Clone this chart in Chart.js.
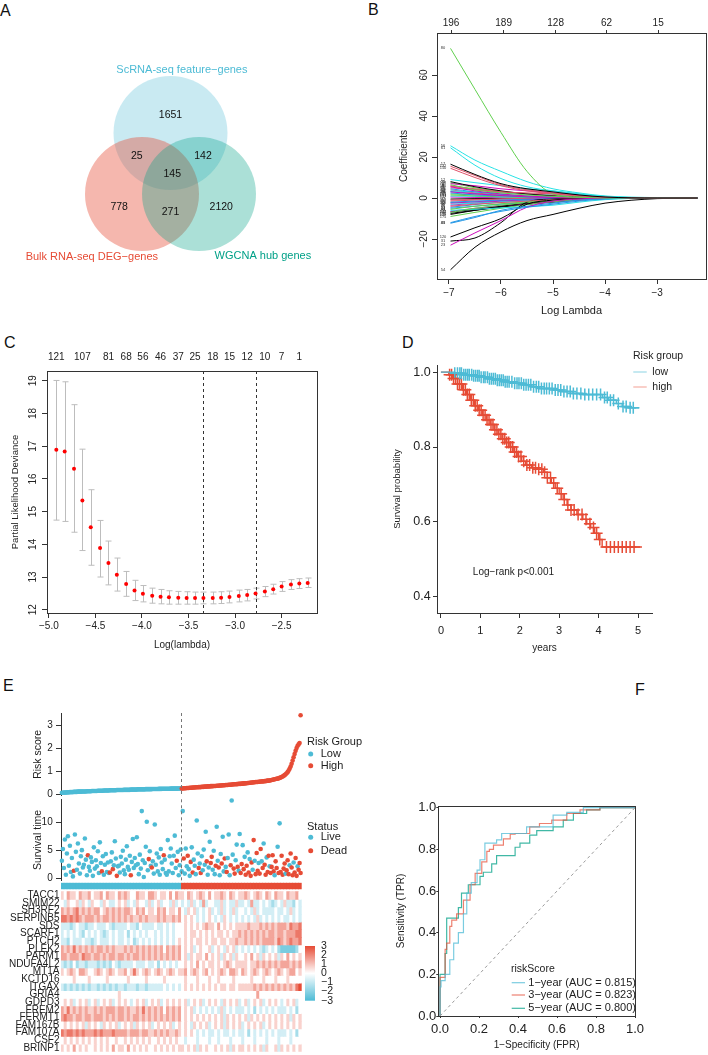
<!DOCTYPE html>
<html>
<head>
<meta charset="utf-8">
<title>Figure</title>
<script src="https://cdn.jsdelivr.net/npm/chart.js@4.4.1/dist/chart.umd.min.js"></script>
<style>
  html, body { margin: 0; padding: 0; background: #fff; }
  body { position: relative; width: 708px; height: 1055px; overflow: hidden; font-family: "Liberation Sans", Arial, sans-serif; }
  canvas { position: absolute; }
  .tag { position: absolute; font-size: 16px; line-height: 16px; color: #111; }
</style>
</head>
<body>
<div class="tag" style="left:0px;top:3px">A</div>
<div class="tag" style="left:368px;top:2px">B</div>
<div class="tag" style="left:4px;top:335px">C</div>
<div class="tag" style="left:402px;top:335px">D</div>
<div class="tag" style="left:3px;top:678px">E</div>
<div class="tag" style="left:635px;top:682px">F</div>

<canvas id="cA" width="354" height="300" style="left:0;top:0"></canvas>
<canvas id="cB" width="354" height="330" style="left:354px;top:0"></canvas>
<canvas id="cC" width="354" height="330" style="left:0;top:330px"></canvas>
<canvas id="cD" width="354" height="330" style="left:354px;top:330px"></canvas>
<canvas id="cE1" width="400" height="125" style="left:0;top:680px"></canvas>
<canvas id="cE2" width="400" height="100" style="left:0;top:790px"></canvas>
<canvas id="cE3" width="400" height="180" style="left:0;top:875px"></canvas>
<canvas id="cF" width="318" height="375" style="left:390px;top:680px"></canvas>

<script>
// ---------- data ----------

// A: Venn
const vennSets = ["ScRNA-seq feature\u2212genes", "Bulk RNA-seq DEG\u2212genes", "WGCNA hub genes"];
const vennCounts = [1651, 25, 142, 145, 778, 271, 2120];

// B: lasso coefficient paths
const lassoLogLambda = [-6.97, -6.5, -6.0, -5.5, -5.0, -4.5, -4.0, -3.0, -2.22];
const lassoTopAt = [-6.96, -5.95, -4.95, -3.97, -2.98];
const lassoTopDf = [196, 189, 128, 62, 15];
const lassoPaths = [
  [16.5, 11.5, 7.0, 4.5, 3.0, 1.5, 0.5, 0, 0],
  [15.5, 11.0, 6.5, 4.0, 2.5, 1.2, 0.4, 0, 0],
  [73, 53, 32, 13, 2.0, 0.5, 0, 0, 0],
  [-12, -9.0, -6.5, -4.5, -3.0, -1.5, -0.5, 0, 0],
  [25.5, 18.5, 13, 8.0, 4.5, 2.5, 1.0, 0.2, 0],
  [-23, -17, -11, -4.5, -1.5, -0.5, 0, 0, 0],
  [-35, -24, -16.5, -11, -8.0, -5.0, -2.5, -0.3, 0],
  [14.5, 10, 6.0, 3.5, 2.0, 1.0, 0.3, 0, 0],
  [6.5, 4.0, 2.5, 1.5, 0.8, 0.3, 0, 0, 0],
  [-12.3, -9.5, -6.0, -4.0, -2.5, -1.0, -0.3, 0, 0],
  [24.5, 16, 9.5, 5.5, 3.5, 2.0, 0.8, 0.1, 0],
  [5.5, 3.5, 2.0, 1.0, 0.4, 0.1, 0, 0, 0],
  [-19, -14.5, -10, -3.0, -1.0, -0.3, 0, 0, 0],
  [-4.0, -3.0, -2.2, -1.5, -0.8, -0.3, 0, 0, 0],
  [-5.5, -4.0, -2.8, -1.8, -1.0, -0.4, 0, 0, 0],
  [4.5, 3.0, 1.8, 1.0, 0.5, 0.2, 0, 0, 0],
  [9.0, 7.5, 6.0, 4.5, 3.5, 2.0, 0.8, 0, 0],
  [3.0, 2.0, 1.2, 0.6, 0.2, 0, 0, 0, 0],
  [-21, -19.5, -12, -2.0, -0.5, 0, 0, 0, 0],
  [5.0, 4.0, 3.0, 2.5, 2.0, 1.2, 0.5, 0, 0],
  [-7.0, -5.0, -3.5, -2.2, -1.2, -0.5, -0.1, 0, 0],
  [-2.0, -1.5, -1.0, -0.6, -0.3, -0.1, 0, 0, 0],
  [-6.0, -5.5, -4.8, -4.2, -3.5, -2.0, -0.8, 0, 0],
  [-2.5, -1.8, -1.2, -0.7, -0.3, 0, 0, 0, 0],
  [8.0, 5.5, 3.5, 2.0, 1.0, 0.4, 0.1, 0, 0],
  [-1.0, -0.7, -0.4, -0.2, -0.1, 0, 0, 0, 0],
  [-9.0, -7.0, -5.0, -3.2, -1.8, -0.8, -0.2, 0, 0],
  [2.5, 1.5, 1.0, 0.5, 0.2, 0, 0, 0, 0],
  [-3.0, -2.5, -2.0, -1.5, -1.0, -0.5, -0.2, 0, 0],
  [7.0, 6.0, 4.5, 3.5, 2.5, 1.5, 0.5, 0, 0],
  [-8.0, -6.0, -4.0, -2.5, -1.3, -0.5, -0.1, 0, 0],
  [6.0, 4.5, 3.0, 2.0, 1.2, 0.5, 0.1, 0, 0],
  [1.5, 1.0, 0.6, 0.3, 0.1, 0, 0, 0, 0],
  [-4.5, -3.2, -2.0, -1.2, -0.5, -0.1, 0, 0, 0],
  [3.5, 3.0, 2.5, 2.0, 1.5, 1.0, 0.4, 0, 0],
  [-6.5, -5.0, -3.8, -2.8, -1.8, -0.9, -0.3, 0, 0],
  [-7.5, -6.0, -4.5, -3.0, -1.8, -0.8, -0.2, 0, 0],
  [4.0, 2.5, 1.5, 0.8, 0.3, 0, 0, 0, 0],
  [2.0, 1.5, 1.2, 0.8, 0.4, 0.1, 0, 0, 0],
  [-5.0, -4.0, -3.0, -2.2, -1.5, -0.8, -0.2, 0, 0],
  [1.0, 0.8, 0.5, 0.3, 0.1, 0, 0, 0, 0],
  [-3.5, -2.5, -1.5, -0.8, -0.3, 0, 0, 0, 0],
  [-6.8, -5.5, -4.2, -3.0, -2.0, -1.0, -0.3, 0, 0],
  [-1.5, -1.0, -0.6, -0.3, -0.1, 0, 0, 0, 0],
  [7.5, 5.0, 3.2, 2.0, 1.1, 0.5, 0.1, 0, 0],
  [3.2, 2.2, 1.4, 0.8, 0.4, 0.1, 0, 0, 0],
  [-2.2, -2.0, -1.6, -1.2, -0.7, -0.3, 0, 0, 0],
  [0.5, 0.3, 0.2, 0.1, 0, 0, 0, 0, 0],
  [-0.5, -0.3, -0.2, -0.1, 0, 0, 0, 0, 0],
  [5.8, 4.2, 3.0, 2.0, 1.2, 0.6, 0.2, 0, 0]
];
const lassoVarIds = [17, 132, 80, 41, 56, 23, 54, 150, 9, 88, 61, 3, 120, 71, 44, 105, 12, 190, 31, 66,
  142, 7, 97, 158, 26, 113, 175, 38, 84, 2, 129, 49, 163, 95, 14, 77, 186, 58, 101, 33,
  171, 6, 144, 69, 118, 20, 92, 137, 47, 181];

// C: cross-validation curve
const cvLogLambda = [-4.92, -4.83, -4.73, -4.64, -4.55, -4.45, -4.36, -4.27, -4.17, -4.08,
  -3.99, -3.89, -3.80, -3.71, -3.61, -3.52, -3.43, -3.34, -3.24, -3.15,
  -3.06, -2.96, -2.87, -2.78, -2.68, -2.59, -2.50, -2.40, -2.31, -2.22];
const cvMean = [16.89, 16.84, 16.31, 15.34, 14.52, 13.89, 13.43, 13.07, 12.79, 12.59,
  12.49, 12.43, 12.40, 12.38, 12.37, 12.36, 12.36, 12.36, 12.36, 12.37,
  12.39, 12.42, 12.45, 12.50, 12.56, 12.63, 12.71, 12.77, 12.80, 12.82];
const cvUpper = [19.01, 18.97, 18.27, 16.91, 15.67, 14.73, 14.10, 13.58, 13.17, 12.90,
  12.74, 12.66, 12.62, 12.58, 12.56, 12.55, 12.54, 12.54, 12.54, 12.55,
  12.57, 12.60, 12.62, 12.66, 12.71, 12.78, 12.86, 12.92, 12.95, 12.97];
const cvLower = [14.74, 14.70, 14.37, 13.81, 13.36, 13.00, 12.76, 12.57, 12.41, 12.28,
  12.24, 12.20, 12.18, 12.17, 12.17, 12.17, 12.17, 12.18, 12.18, 12.19,
  12.21, 12.24, 12.27, 12.33, 12.40, 12.48, 12.56, 12.62, 12.65, 12.68];
const cvLambdaMin = -3.34;
const cvLambda1se = -2.78;
const cvTopAt = [-4.92, -4.64, -4.36, -4.17, -3.99, -3.80, -3.61, -3.43, -3.24, -3.06, -2.87, -2.68, -2.50, -2.31];
const cvTopDf = [121, 107, 81, 68, 56, 46, 37, 25, 18, 15, 12, 10, 7, 1];

// D: Kaplan-Meier
const kmLowTime = [0, 0.35, 0.55, 0.8, 1.0, 1.2, 1.4, 1.6, 1.85, 2.05, 2.3, 2.5, 2.85, 3.05, 3.35, 3.6, 4.1, 4.25, 4.45, 4.6, 4.75, 5.03];
const kmLowSurv = [1.0, 0.997, 0.993, 0.99, 0.986, 0.982, 0.978, 0.974, 0.97, 0.966, 0.961, 0.956, 0.952, 0.948, 0.943, 0.94, 0.932, 0.925, 0.916, 0.908, 0.905, 0.905];
const kmHighTime = [0, 0.2, 0.3, 0.42, 0.55, 0.65, 0.75, 0.85, 0.95, 1.05, 1.15, 1.25, 1.35, 1.45, 1.55, 1.65, 1.75, 1.85, 1.95,
  2.05, 2.15, 2.3, 2.45, 2.6, 2.7, 2.8, 2.9, 3.0, 3.1, 3.2, 3.3, 3.45, 3.6, 3.7, 3.8, 3.9, 4.0, 4.09, 5.1];
const kmHighSurv = [1.0, 0.993, 0.983, 0.968, 0.953, 0.94, 0.925, 0.91, 0.898, 0.885, 0.873, 0.86, 0.846, 0.834, 0.822, 0.812, 0.8, 0.787, 0.775,
  0.762, 0.752, 0.745, 0.741, 0.733, 0.718, 0.704, 0.69, 0.675, 0.66, 0.645, 0.632, 0.62, 0.607, 0.595, 0.585, 0.57, 0.553, 0.533, 0.533];
const censorLow = [0.35, 0.42, 0.48, 0.52, 0.58, 0.63, 0.68, 0.72, 0.78, 0.83, 0.88, 0.93, 0.97, 1.02, 1.08, 1.12, 1.18, 1.23, 1.28, 1.33,
  1.38, 1.43, 1.48, 1.53, 1.58, 1.63, 1.68, 1.73, 1.8, 1.87, 1.93, 1.98, 2.04, 2.1, 2.16, 2.22, 2.28, 2.35, 2.42, 2.48,
  2.55, 2.62, 2.68, 2.75, 2.82, 2.9, 2.97, 3.04, 3.12, 3.2, 3.28, 3.36, 3.45, 3.55, 3.65, 3.75, 3.85, 3.95, 4.05, 4.15,
  4.22, 4.3, 4.38, 4.5, 4.62, 4.7, 4.8, 4.88];
const censorHigh = [0.22, 0.27, 0.32, 0.37, 0.42, 0.47, 0.52, 0.57, 0.62, 0.67, 0.72, 0.77, 0.82, 0.87, 0.92, 0.97, 1.02, 1.07, 1.12, 1.17,
  1.22, 1.27, 1.32, 1.37, 1.42, 1.47, 1.52, 1.57, 1.62, 1.67, 1.72, 1.77, 1.82, 1.87, 1.92, 1.97, 2.03, 2.1, 2.18, 2.25,
  2.33, 2.4, 2.48, 2.56, 2.63, 2.7, 2.78, 2.86, 2.95, 3.05, 3.13, 3.22, 3.3, 3.38, 3.48, 3.58, 3.68, 3.78, 3.87, 3.95,
  4.03, 4.2, 4.3, 4.4, 4.5, 4.6, 4.7, 4.8, 4.9];

// E: risk score, survival time, heatmap (patients sorted by risk score)
const riskScoreLow = [
  0.07, 0.07, 0.08, 0.08, 0.08, 0.09, 0.09, 0.09, 0.10, 0.10, 0.10, 0.10, 0.11, 0.11, 0.11,
  0.11, 0.12, 0.12, 0.12, 0.12, 0.13, 0.13, 0.13, 0.13, 0.13, 0.14, 0.14, 0.14, 0.14, 0.14,
  0.15, 0.15, 0.15, 0.15, 0.15, 0.15, 0.16, 0.16, 0.16, 0.16, 0.16, 0.16, 0.17, 0.17, 0.17,
  0.17, 0.17, 0.17, 0.18, 0.18, 0.18, 0.18, 0.18, 0.18, 0.18, 0.19, 0.19, 0.19, 0.19, 0.19,
  0.19, 0.19, 0.20, 0.20, 0.20, 0.20, 0.20, 0.20, 0.20, 0.21, 0.21, 0.21, 0.21, 0.21, 0.21,
  0.21, 0.22, 0.22, 0.22, 0.22, 0.22, 0.22, 0.22, 0.22, 0.23, 0.23, 0.23, 0.23, 0.23, 0.23,
  0.232, 0.234, 0.235, 0.236, 0.237, 0.238, 0.239, 0.240, 0.241, 0.242, 0.243, 0.244, 0.245, 0.246, 0.247,
  0.248, 0.249, 0.250, 0.250, 0.251, 0.251, 0.252, 0.252, 0.253, 0.253, 0.254, 0.254, 0.255, 0.255, 0.256];
const riskScoreHigh = [
  0.26, 0.26, 0.27, 0.27, 0.27, 0.28, 0.28, 0.28, 0.29, 0.29, 0.29, 0.30, 0.30, 0.30, 0.31,
  0.31, 0.31, 0.32, 0.32, 0.32, 0.33, 0.33, 0.33, 0.34, 0.34, 0.34, 0.35, 0.35, 0.35, 0.36,
  0.36, 0.36, 0.37, 0.37, 0.37, 0.38, 0.38, 0.38, 0.39, 0.39, 0.39, 0.40, 0.40, 0.40, 0.41,
  0.41, 0.41, 0.42, 0.42, 0.42, 0.43, 0.43, 0.44, 0.44, 0.44, 0.45, 0.45, 0.46, 0.46, 0.46,
  0.47, 0.47, 0.48, 0.48, 0.49, 0.49, 0.50, 0.50, 0.51, 0.51, 0.52, 0.52, 0.53, 0.53, 0.54,
  0.54, 0.54, 0.55, 0.55, 0.56, 0.56, 0.57, 0.57, 0.58, 0.58, 0.59, 0.60, 0.60, 0.61, 0.62,
  0.63, 0.64, 0.65, 0.66, 0.67, 0.68, 0.69, 0.70, 0.72, 0.74, 0.76, 0.78, 0.81, 0.84, 0.88,
  0.92, 0.97, 1.04, 1.12, 1.22, 1.34, 1.48, 1.62, 1.76, 1.90, 2.02, 2.12, 2.18, 2.24, 3.45];
const survTimeLow = [
  3.1, 5.2, 1.8, 6.9, 0.6, 4.4, 7.5, 2.2, 5.8, 1.1, 3.6, 0.3, 1.3, 7.8, 4.7,
  1.5, 6.2, 2.6, 0.8, 3.9, 5.0, 1.9, 2.4, 7.1, 3.3, 0.5, 4.1, 2.0, 1.3, 3.7,
  2.9, 0.4, 5.5, 1.7, 3.2, 2.1, 4.8, 0.9, 6.4, 2.7, 1.2, 3.9, 0.6, 2.4, 4.3,
  1.1, 2.8, 0.9, 1.0, 3.0, 4.6, 1.6, 2.3, 6.6, 3.5, 0.4, 2.1, 2.2, 1.0, 3.8,
  2.6, 4.9, 1.4, 0.7, 3.3, 5.7, 2.0, 1.5, 4.0, 0.5, 2.9, 7.0, 1.8, 3.6, 2.3,
  7.3, 2.5, 0.7, 4.2, 1.7, 12.0, 3.2, 0.2, 2.7, 5.6, 10.1, 1.4, 3.4, 4.8, 2.2,
  1.9, 3.0, 0.8, 9.6, 2.4, 4.4, 1.2, 3.7, 0.6, 5.2, 2.8, 1.6, 4.1, 3.3, 0.9,
  0.6, 6.8, 1.2, 3.9, 5.3, 2.6, 0.9, 4.0, 7.6, 1.8, 3.1, 4.7, 0.5, 2.3, 5.1];
const survTimeHigh = [
  1.2, 12.0, 3.5, 0.8, 5.3, 2.1, 4.0, 1.6, 0.4, 2.9, 5.5, 1.0, 3.3, 2.2, 0.7,
  10.3, 4.4, 1.8, 2.6, 0.9, 3.9, 1.4, 5.1, 2.4, 8.3, 3.0, 0.6, 1.9, 6.5, 2.7,
  3.8, 1.5, 4.9, 0.7, 2.2, 9.2, 3.1, 1.9, 0.5, 4.3, 2.6, 7.4, 1.2, 3.5, 2.0,
  1.1, 3.6, 7.8, 0.5, 2.3, 13.9, 4.2, 1.7, 0.8, 3.2, 6.0, 2.0, 1.3, 7.9, 0.9,
  2.5, 5.9, 1.6, 3.8, 0.6, 2.2, 4.6, 1.0, 3.4, 0.4, 2.8, 1.5, 6.8, 3.1, 0.7,
  4.5, 1.3, 2.7, 0.8, 5.2, 3.0, 1.8, 6.2, 2.4, 0.6, 3.7, 1.1, 4.0, 2.1, 0.9,
  2.0, 4.1, 1.2, 0.5, 3.0, 1.8, 5.6, 0.9, 9.8, 1.1, 4.0, 0.6, 1.7, 2.6, 0.8,
  1.4, 3.2, 0.7, 2.3, 4.4, 1.9, 0.5, 2.8, 1.0, 3.6, 0.4, 2.1, 1.5, 2.7, 0.9];
const statusLow = [
  0, 0, 0, 0, 0, 0, 0, 0, 0, 0, 0, 0, 1, 0, 0,
  0, 0, 0, 0, 0, 0, 0, 0, 0, 0, 0, 1, 0, 0, 0,
  0, 0, 0, 0, 0, 0, 0, 0, 0, 0, 1, 0, 0, 0, 0,
  0, 0, 0, 1, 0, 0, 1, 0, 0, 0, 1, 0, 0, 0, 0,
  0, 0, 0, 0, 0, 0, 0, 0, 0, 1, 0, 0, 0, 0, 0,
  0, 0, 0, 0, 0, 0, 0, 0, 0, 0, 0, 0, 1, 0, 0,
  1, 0, 0, 0, 0, 0, 0, 0, 0, 0, 0, 0, 1, 0, 0,
  0, 0, 0, 0, 0, 0, 0, 0, 0, 0, 1, 0, 0, 0, 0];
const statusHigh = [
  0, 0, 1, 0, 0, 0, 1, 0, 0, 1, 0, 1, 0, 0, 0,
  0, 0, 1, 0, 1, 0, 0, 0, 0, 0, 1, 0, 0, 0, 1,
  1, 0, 0, 0, 1, 0, 0, 1, 0, 0, 1, 0, 0, 1, 0,
  1, 0, 0, 0, 1, 0, 0, 1, 1, 0, 0, 1, 0, 0, 1,
  1, 0, 1, 0, 1, 1, 0, 1, 0, 1, 1, 0, 1, 0, 1,
  1, 1, 0, 1, 1, 0, 1, 0, 1, 1, 0, 1, 1, 0, 1,
  1, 1, 1, 0, 1, 1, 0, 1, 0, 1, 1, 1, 1, 1, 0,
  1, 1, 1, 0, 1, 1, 1, 0, 1, 1, 1, 0, 1, 1, 1];

const heatGenes = ["TACC1", "SMIM22", "SH3RF2", "SERPINB5", "SDS", "SCARF1", "PTCH2", "PLEK2", "PARM1", "NDUFA4L2",
  "MT1A", "KCTD16", "ITGAX", "GRIA4", "GDPD3", "FREM2", "FERMT1", "FAM167B", "FAM107A", "CSF2", "BRINP1"];
// one digit per column, 0..8 stands for z = -3..3 in steps of 0.75
const heatRows = [
  "5465546556 4556465546 5654465546 6545546465 5465456546 4556546545 5654565465 4655465564",
  "4354453543 5443543345 4534354435 3453443534 3435343634 4335343353 3436334343 2343533243",
  "6565675656 5664565656 5665465645 5465645546 4354534345 3435343534 4343534333 3433435343",
  "7767676566 6565665656 5656556565 5565655656 4545434345 4343543434 3434353434 3434334343",
  "3332343323 3433343233 3343324333 3433434344 4545454565 5464545455 5565556565 6566657667",
  "3434343243 4343234343 3424343434 4343434344 4545545454 5455454556 5656565656 6566566677",
  "3324333433 2343334343 3434234343 4343434345 4545455454 5545545565 5656565666 6576567667",
  "6565756565 6566565655 5656565656 5656465656 4545345445 3454354534 3434343234 3421111124",
  "6656665766 5665656656 6565665656 5656565656 4535455464 5453545354 4546453545 4535464545",
  "3232423323 3323232432 3333433343 3424343434 4545464545 5454565455 5545565656 5656665656",
  "5456546654 4565456545 5645754565 4565456545 5645654564 5456546654 6545654565 4565456645",
  "4444544445 4444454444 4454444454 4444544444 4544454445 4454444544 4445444544 4544454444",
  "3232323232 3323232323 3233323323 3333434343 4545454545 4545545545 5555656565 6565656578",
  "4444444444 4444444445 4444444444 4444444444 4444444444 4444444444 4444464444 4444444444",
  "4545345453 4534545345 4543454534 5453454545 4534545345 4543545453 4534545345 4543454534",
  "6575656565 5656566656 6565565756 5656465656 4545343434 3435343433 3434243434 3433343424",
  "6766566566 5666565656 6565665656 5656565656 4545454545 4545354545 4535454545 4545453545",
  "4545454535 4543545453 4545354545 3454545345 4543545453 4545354545 3454545345 4545454545",
  "7677676766 6767666766 6656665665 5656565565 4545434343 3434334343 3424343434 3433343424",
  "4545454545 4545454454 4545454545 4454545454 4344434443 4434443444 3444344434 4434443444",
  "5454645454 4545454645 5464545454 4545454545 5454535454 4545453545 5454545354 4535454545"
];
const heatLowCols = 40;
const heatLegendTicks = [3, 2, 1, 0, -1, -2, -3];

// F: time-dependent ROC
const roc1Fpr = [0, 0, 0.005, 0.026, 0.05, 0.07, 0.094, 0.12, 0.137, 0.16, 0.19, 0.205, 0.23, 0.256, 0.29, 0.316, 0.36, 0.444, 0.48, 0.58, 0.65, 0.735, 0.75, 1.0];
const roc1Tpr = [0, 0.14, 0.14, 0.17, 0.2, 0.27, 0.35, 0.40, 0.49, 0.59, 0.64, 0.70, 0.75, 0.83, 0.83, 0.845, 0.876, 0.876, 0.908, 0.908, 0.964, 0.977, 1.0, 1.0];
const roc3Fpr = [0, 0, 0.026, 0.034, 0.05, 0.06, 0.085, 0.12, 0.154, 0.18, 0.214, 0.24, 0.253, 0.274, 0.325, 0.36, 0.385, 0.46, 0.51, 0.573, 0.65, 0.718, 0.82, 0.855, 1.0];
const roc3Tpr = [0, 0.185, 0.185, 0.32, 0.35, 0.43, 0.46, 0.49, 0.556, 0.63, 0.685, 0.74, 0.79, 0.80, 0.82, 0.85, 0.873, 0.876, 0.908, 0.924, 0.94, 0.972, 0.989, 1.0, 1.0];
const roc5Fpr = [0, 0, 0.026, 0.034, 0.048, 0.094, 0.11, 0.145, 0.16, 0.205, 0.222, 0.265, 0.29, 0.316, 0.385, 0.41, 0.46, 0.496, 0.58, 0.632, 0.684, 0.752, 0.82, 0.89, 1.0];
const roc5Tpr = [0, 0.2, 0.2, 0.3, 0.47, 0.47, 0.52, 0.59, 0.63, 0.63, 0.67, 0.69, 0.73, 0.77, 0.77, 0.81, 0.83, 0.868, 0.89, 0.908, 0.94, 0.972, 0.989, 1.0, 1.0];
const rocLabels = ["1\u2212year (AUC = 0.815)", "3\u2212year (AUC = 0.823)", "5\u2212year (AUC = 0.800)"];
const rocDiag = [0, 1];

// ---------- styles & helpers ----------
const FONT = '"Liberation Sans", Arial, sans-serif';
const RED = "#E64B35", BLUE = "#4DBBD5", TEAL = "#00A087";
const R_PALETTE = ["#000000", "#DF536B", "#61D04F", "#2297E6", "#28E2E5", "#CD0BBC"];
Chart.defaults.font.family = FONT;
Chart.defaults.color = "#222";

const minus = s => String(s).replace("-", "\u2212");
const fmt0 = v => minus(v);
const fmt1 = v => minus(Number(v).toFixed(1));

function mk(id, cfg) {
  const opts = cfg.options || {};
  opts.layout = Object.assign({ autoPadding: false }, opts.layout);
  cfg.options = Object.assign({
    responsive: false, animation: false, devicePixelRatio: 1, events: [],
    plugins: { legend: { display: false }, tooltip: { enabled: false } }
  }, opts);
  return new Chart(document.getElementById(id), cfg);
}

// linear axis with a fixed thickness so the plot box lands where the figure has it
function linAxis(o) {
  const horiz = o.position === "bottom" || o.position === "top";
  return {
    type: "linear", position: o.position, min: o.min, max: o.max, reverse: !!o.reverse,
    afterFit: s => { if (horiz) s.height = o.size; else s.width = o.size; },
    afterBuildTicks: s => { s.ticks = o.ticks.map(v => ({ value: v })); },
    grid: { display: true, drawOnChartArea: false, drawTicks: o.tl > 0, tickLength: o.tl || 0, color: "#333", lineWidth: 1 },
    border: { display: !!o.border, color: "#333", width: 1 },
    ticks: { display: o.labels !== false, padding: o.pad || 0, font: { size: o.font || 10 }, color: "#222",
      callback: o.fmt || fmt0, maxRotation: 0, minRotation: 0, autoSkip: false },
    title: o.title ? { display: true, text: o.title, color: "#222", font: { size: o.titleFont || 10 },
      padding: horiz ? { top: 0, bottom: o.titlePad } : { top: o.titlePad, bottom: 0 } } : { display: false }
  };
}

const boxPlugin = {
  id: "box",
  afterDraw(c) {
    const a = c.chartArea, ctx = c.ctx;
    ctx.save();
    ctx.strokeStyle = "#333"; ctx.lineWidth = 1;
    ctx.strokeRect(Math.round(a.left) + 0.5, Math.round(a.top) + 0.5, Math.round(a.right - a.left), Math.round(a.bottom - a.top));
    ctx.restore();
  }
};

// R draws y tick labels parallel to the axis
function rotTicks(vals, fmt, off, size) {
  return {
    id: "rotTicks",
    afterDraw(c) {
      const s = c.scales.y, ctx = c.ctx;
      ctx.save();
      ctx.font = size + "px " + FONT; ctx.fillStyle = "#222";
      ctx.textAlign = "center"; ctx.textBaseline = "middle";
      vals.forEach(v => {
        ctx.save();
        ctx.translate(c.chartArea.left - off, s.getPixelForValue(v));
        ctx.rotate(-Math.PI / 2);
        ctx.fillText(fmt(v), 0, 0);
        ctx.restore();
      });
      ctx.restore();
    }
  };
}

// legend / annotation items in canvas coordinates
function overlay(items) {
  return {
    id: "overlay",
    afterDraw(c) {
      const ctx = c.ctx;
      ctx.save();
      items.forEach(it => {
        if (it.t === "text") {
          ctx.font = (it.size || 11) + "px " + FONT;
          ctx.fillStyle = it.color || "#222";
          ctx.textAlign = it.align || "left"; ctx.textBaseline = "middle";
          ctx.fillText(it.s, it.x, it.y);
        } else if (it.t === "dot") {
          ctx.fillStyle = it.color;
          ctx.beginPath(); ctx.arc(it.x, it.y, it.r || 2.5, 0, Math.PI * 2); ctx.fill();
        } else if (it.t === "line") {
          ctx.strokeStyle = it.color; ctx.lineWidth = it.w || 1.2;
          ctx.beginPath(); ctx.moveTo(it.x1, it.y); ctx.lineTo(it.x2, it.y); ctx.stroke();
        }
      });
      ctx.restore();
    }
  };
}

// ---------- A: Venn ----------
const vennCenters = [[0, 1.07], [-0.5, 0], [0.5, 0]];
const vennCountPos = [[0, 1.39], [-0.59, 0.67], [0.57, 0.67], [0.03, 0.35], [-0.9, -0.23], [0, -0.32], [0.89, -0.23]];
const vennLabelPos = [[0.2, 2.18], [-1.38, -1.1], [1.62, -1.09]];
const vennText = {
  id: "vennText",
  afterDatasetsDraw(c) {
    const { ctx, scales: { x, y } } = c;
    ctx.save();
    ctx.textAlign = "center"; ctx.textBaseline = "middle";
    ctx.font = "10.5px " + FONT; ctx.fillStyle = "#111";
    vennCounts.forEach((n, i) => ctx.fillText(String(n), x.getPixelForValue(vennCountPos[i][0]), y.getPixelForValue(vennCountPos[i][1])));
    ctx.font = "11px " + FONT;
    const cols = [BLUE, RED, TEAL];
    vennSets.forEach((s, i) => {
      ctx.fillStyle = cols[i];
      ctx.fillText(s, x.getPixelForValue(vennLabelPos[i][0]), y.getPixelForValue(vennLabelPos[i][1]));
    });
    ctx.restore();
  }
};
mk("cA", {
  type: "scatter",
  data: { datasets: [{
    data: vennCenters.map(p => ({ x: p[0], y: p[1] })),
    pointRadius: 57, borderWidth: 0, clip: false,
    backgroundColor: ["rgba(77,187,213,0.30)", "rgba(230,75,53,0.40)", "rgba(0,160,135,0.33)"]
  }] },
  options: {
    layout: { padding: 0 },
    scales: {
      x: { type: "linear", display: false, min: -2.991, max: 3.219 },
      y: { type: "linear", display: false, min: -1.86, max: 3.404 }
    }
  },
  plugins: [vennText]
});

// ---------- B: lasso paths ----------
const lassoIdPlugin = {
  id: "lassoIds",
  afterDatasetsDraw(c) {
    const ctx = c.ctx, y = c.scales.y, x0 = c.chartArea.left + 6;
    ctx.save();
    ctx.font = "4px " + FONT; ctx.fillStyle = "#333";
    ctx.textAlign = "center"; ctx.textBaseline = "middle";
    lassoPaths.forEach((p, i) => ctx.fillText(String(lassoVarIds[i]), x0, y.getPixelForValue(p[0])));
    ctx.restore();
  }
};
mk("cB", {
  type: "line",
  data: { datasets: lassoPaths.map((vals, i) => ({
    data: vals.map((v, j) => ({ x: lassoLogLambda[j], y: v })),
    borderColor: R_PALETTE[i % 6], borderWidth: 1, pointRadius: 0,
    cubicInterpolationMode: "monotone", fill: false
  })) },
  options: {
    layout: { padding: { left: 0, right: 2, top: 0, bottom: 0 } },
    scales: {
      x: linAxis({ position: "bottom", min: -7.23, max: -2.06, size: 51, ticks: [-7, -6, -5, -4, -3], tl: 5, pad: 3, font: 10,
        title: "Log Lambda", titleFont: 11, titlePad: 12 }),
      x2: linAxis({ position: "top", min: -7.23, max: -2.06, size: 33, ticks: lassoTopAt, tl: 3, pad: 1, font: 10,
        fmt: (v, i) => String(lassoTopDf[i]) }),
      y: linAxis({ position: "left", min: -39.5, max: 80.5, size: 83, ticks: [-20, 0, 20, 40, 60], tl: 5, labels: false,
        title: "Coefficients", titleFont: 10, titlePad: 44 })
    }
  },
  plugins: [boxPlugin, rotTicks([-20, 0, 20, 40, 60], fmt0, 13, 10), lassoIdPlugin]
});

// ---------- C: CV deviance ----------
const cvBars = {
  id: "cvBars",
  beforeDatasetsDraw(c) {
    const { ctx, scales: { x, y } } = c;
    ctx.save();
    ctx.strokeStyle = "#BDBDBD"; ctx.lineWidth = 1;
    cvLogLambda.forEach((v, i) => {
      const px = Math.round(x.getPixelForValue(v)) + 0.5;
      const yt = y.getPixelForValue(cvUpper[i]), yb = y.getPixelForValue(cvLower[i]);
      ctx.beginPath();
      ctx.moveTo(px, yt); ctx.lineTo(px, yb);
      ctx.moveTo(px - 3, yt); ctx.lineTo(px + 3, yt);
      ctx.moveTo(px - 3, yb); ctx.lineTo(px + 3, yb);
      ctx.stroke();
    });
    ctx.strokeStyle = "#333"; ctx.setLineDash([3, 3]);
    [cvLambdaMin, cvLambda1se].forEach(v => {
      const px = Math.round(x.getPixelForValue(v)) + 0.5;
      ctx.beginPath(); ctx.moveTo(px, c.chartArea.top); ctx.lineTo(px, c.chartArea.bottom); ctx.stroke();
    });
    ctx.restore();
  }
};
const cvYTicks = [12, 13, 14, 15, 16, 17, 18, 19];
mk("cC", {
  type: "scatter",
  data: { datasets: [{
    data: cvLogLambda.map((x, i) => ({ x, y: cvMean[i] })),
    pointRadius: 2, backgroundColor: "#FF0000", borderWidth: 0, clip: false
  }] },
  options: {
    layout: { padding: { left: 0, right: 37, top: 0, bottom: 0 } },
    scales: {
      x: linAxis({ position: "bottom", min: -5.02, max: -2.12, size: 47, ticks: [-5, -4.5, -4, -3.5, -3, -2.5], tl: 5, pad: 2, font: 10,
        fmt: fmt1, title: "Log(lambda)", titleFont: 10, titlePad: 9 }),
      x2: linAxis({ position: "top", min: -5.02, max: -2.12, size: 41, ticks: cvTopAt, tl: 0, pad: 8, font: 10,
        fmt: (v, i) => String(cvTopDf[i]) }),
      y: linAxis({ position: "left", min: 11.9, max: 19.3, size: 47, ticks: cvYTicks, tl: 5, labels: false,
        title: "Partial Likelihood Deviance", titleFont: 9.5, titlePad: 9.3 })
    }
  },
  plugins: [cvBars, boxPlugin, rotTicks(cvYTicks, fmt0, 14, 10)]
});

// ---------- D: Kaplan-Meier ----------
function survAt(times, surv, t) {
  let s = surv[0];
  for (let i = 0; i < times.length; i++) { if (times[i] <= t) s = surv[i]; }
  return s;
}
const kmNote = {
  id: "kmNote",
  afterDraw(c) {
    const { ctx, scales: { x, y } } = c;
    ctx.save();
    ctx.font = "10px " + FONT; ctx.fillStyle = "#222";
    ctx.textAlign = "left"; ctx.textBaseline = "middle";
    ctx.fillText("Log\u2212rank p<0.001", x.getPixelForValue(0.81), y.getPixelForValue(0.467));
    ctx.restore();
  }
};
mk("cD", {
  type: "line",
  data: { datasets: [
    { data: kmLowTime.map((t, i) => ({ x: t, y: kmLowSurv[i] })), borderColor: BLUE, borderWidth: 1.4, pointRadius: 0, stepped: "before", fill: false },
    { data: kmHighTime.map((t, i) => ({ x: t, y: kmHighSurv[i] })), borderColor: RED, borderWidth: 1.4, pointRadius: 0, stepped: "before", fill: false },
    { type: "scatter", data: censorLow.map(t => ({ x: t, y: survAt(kmLowTime, kmLowSurv, t) })), pointStyle: "cross",
      pointRadius: 6, borderColor: BLUE, borderWidth: 1.5, clip: false },
    { type: "scatter", data: censorHigh.map(t => ({ x: t, y: survAt(kmHighTime, kmHighSurv, t) })), pointStyle: "cross",
      pointRadius: 6, borderColor: RED, borderWidth: 1.5, clip: false }
  ] },
  options: {
    layout: { padding: { left: 0, right: 56, top: 35, bottom: 0 } },
    scales: {
      x: linAxis({ position: "bottom", min: -0.1, max: 5.355, size: 47, ticks: [0, 1, 2, 3, 4, 5], tl: 5, pad: 6, font: 11, border: true,
        title: "years", titleFont: 10, titlePad: 6 }),
      y: linAxis({ position: "left", min: 0.357, max: 1.019, size: 83, ticks: [0.4, 0.6, 0.8, 1.0], tl: 4, pad: 2.3, font: 12.5, border: true,
        fmt: fmt1, title: "Survival probability", titleFont: 9.5, titlePad: 37.3 })
    }
  },
  plugins: [kmNote, overlay([
    { t: "text", s: "Risk group", x: 279, y: 26, size: 10.5 },
    { t: "line", x1: 279.3, x2: 292.7, y: 42, color: "rgba(77,187,213,0.55)" },
    { t: "text", s: "low", x: 298.3, y: 42, size: 10.5 },
    { t: "line", x1: 279.3, x2: 292.7, y: 57, color: "rgba(230,75,53,0.45)" },
    { t: "text", s: "high", x: 298.3, y: 57, size: 10.5 }
  ])]
});

// ---------- E: risk score / survival time / heatmap ----------
const riskScore = riskScoreLow.concat(riskScoreHigh);
const survTime = survTimeLow.concat(survTimeHigh);
const status = statusLow.concat(statusHigh);
const nLow = riskScoreLow.length;
const splitLine = {
  id: "split",
  afterDatasetsDraw(c) {
    const { ctx, scales: { x } } = c;
    const px = Math.round(x.getPixelForValue(nLow + 0.5)) + 0.5;
    ctx.save();
    ctx.strokeStyle = "#777"; ctx.lineWidth = 1; ctx.setLineDash([3, 3]);
    ctx.beginPath(); ctx.moveTo(px, c.chartArea.top); ctx.lineTo(px, c.chartArea.bottom); ctx.stroke();
    ctx.restore();
  }
};
mk("cE1", {
  type: "scatter",
  data: { datasets: [{
    data: riskScore.map((v, i) => ({ x: i + 1, y: v })),
    backgroundColor: riskScore.map((v, i) => (i < nLow ? BLUE : RED)),
    pointRadius: 2.3, borderWidth: 0, clip: false
  }] },
  options: {
    layout: { padding: { left: 0, right: 99, top: 33, bottom: 8 } },
    scales: {
      x: { type: "linear", display: false, min: 0.1, max: riskScore.length + 0.4 },
      y: linAxis({ position: "left", min: -0.056, max: 3.55, size: 61, ticks: [0, 1, 2, 3], tl: 5, pad: 3.3, font: 10, border: true,
        title: "Risk score", titleFont: 10.5, titlePad: 31.7 })
    }
  },
  plugins: [splitLine, overlay([
    { t: "text", s: "Risk Group", x: 307, y: 62 },
    { t: "dot", x: 310.7, y: 74, color: BLUE },
    { t: "text", s: "Low", x: 320.7, y: 74 },
    { t: "dot", x: 310.7, y: 85.7, color: RED },
    { t: "text", s: "High", x: 320.7, y: 85.7 }
  ])]
});
mk("cE2", {
  type: "scatter",
  data: { datasets: [{
    data: survTime.map((v, i) => ({ x: i + 1, y: v })),
    backgroundColor: status.map(s => (s ? RED : BLUE)),
    pointRadius: 2.3, borderWidth: 0, clip: false
  }] },
  options: {
    layout: { padding: { left: 0, right: 99, top: 8, bottom: 8 } },
    scales: {
      x: { type: "linear", display: false, min: 0.1, max: survTime.length + 0.4 },
      y: linAxis({ position: "left", min: -0.47, max: 14.11, size: 61, ticks: [0, 5, 10], tl: 5, pad: 3.3, font: 10, border: true,
        title: "Survival time", titleFont: 10.5, titlePad: 31.7 })
    }
  },
  plugins: [splitLine, overlay([
    { t: "text", s: "Status", x: 307, y: 36.7 },
    { t: "dot", x: 310.7, y: 47.3, color: BLUE },
    { t: "text", s: "Live", x: 320.7, y: 47.3 },
    { t: "dot", x: 310.7, y: 60.7, color: RED },
    { t: "text", s: "Dead", x: 320.7, y: 60.7 }
  ])]
});

function heatColor(z) {
  const t = Math.min(1, Math.abs(z) / 3);
  const c = z >= 0 ? [230, 75, 53] : [77, 187, 213];
  return "rgb(" + c.map(v => Math.round(255 + (v - 255) * t)).join(",") + ")";
}
const heatZ = heatRows.map(r => r.replace(/\s+/g, "").split("").map(d => (Number(d) - 4) * 0.75));
const colLabels = heatZ[0].map((_, j) => String(j + 1));
const heatSide = {
  id: "heatSide",
  afterDraw(c) {
    const { ctx, scales: { y }, chartArea: a } = c;
    ctx.save();
    ctx.font = "10px " + FONT; ctx.fillStyle = "#222";
    ctx.textAlign = "right"; ctx.textBaseline = "middle";
    heatGenes.forEach((g, i) => ctx.fillText(g, a.left - 1.5, y.getPixelForValue(i + 0.5)));
    // colour key
    const kx = 305, kw = 10, ky = 71, kh = 54.7;
    const grad = ctx.createLinearGradient(0, ky, 0, ky + kh);
    grad.addColorStop(0, heatColor(3)); grad.addColorStop(0.5, heatColor(0)); grad.addColorStop(1, heatColor(-3));
    ctx.fillStyle = grad; ctx.fillRect(kx, ky, kw, kh);
    ctx.font = "10.5px " + FONT; ctx.fillStyle = "#222"; ctx.textAlign = "left";
    heatLegendTicks.forEach(v => ctx.fillText(minus(v), kx + 16, ky + (3 - v) / 6 * kh));
    ctx.restore();
  }
};
mk("cE3", {
  type: "bar",
  data: {
    labels: colLabels,
    datasets: heatZ.map((row, i) => ({
      data: row.map(() => [i, i + 1]),
      backgroundColor: row.map(heatColor),
      borderWidth: 0, barPercentage: 1, categoryPercentage: 1
    })).concat([{
      data: colLabels.map(() => [-1.18, -0.35]),
      backgroundColor: colLabels.map((_, j) => (j < heatLowCols ? BLUE : RED)),
      borderWidth: 0, barPercentage: 1, categoryPercentage: 1
    }])
  },
  options: {
    layout: { padding: { left: 61, right: 98.3, top: 7.7, bottom: 3.3 } },
    scales: {
      x: { type: "category", display: false, stacked: true },
      y: { type: "linear", display: false, reverse: true, min: -1.18, max: heatZ.length }
    }
  },
  plugins: [heatSide]
});

// ---------- F: ROC ----------
const rocColors = ["rgba(77,187,213,0.75)", "rgba(230,75,53,0.7)", "rgba(0,160,135,0.75)"];
const rocSets = [[roc1Fpr, roc1Tpr], [roc3Fpr, roc3Tpr], [roc5Fpr, roc5Tpr]];
const rocTicks = [0, 0.2, 0.4, 0.6, 0.8, 1.0];
mk("cF", {
  type: "line",
  data: { datasets: [{
    data: rocDiag.map(v => ({ x: v, y: v })), borderColor: "#9A9A9A", borderWidth: 1, borderDash: [3, 3], pointRadius: 0, fill: false
  }].concat(rocSets.map((s, k) => ({
    data: s[0].map((f, i) => ({ x: f, y: s[1][i] })), borderColor: rocColors[k], borderWidth: 1.2,
    pointRadius: 0, stepped: "after", fill: false
  }))) },
  options: {
    layout: { padding: { left: 0, right: 73, top: 126, bottom: 0 } },
    scales: {
      x: linAxis({ position: "bottom", min: -0.009, max: 1.0, size: 39, ticks: rocTicks, tl: 2, pad: 4, font: 13, fmt: fmt1,
        title: "1\u2212Specificity (FPR)", titleFont: 10, titlePad: 3.3 }),
      y: linAxis({ position: "left", min: 0, max: 1.008, size: 48.3, ticks: rocTicks, tl: 2, pad: 0, font: 13, fmt: fmt1,
        title: "Sensitivity (TPR)", titleFont: 10, titlePad: 5 })
    }
  },
  plugins: [boxPlugin, overlay([
    { t: "text", s: "riskScore", x: 121, y: 288.7, size: 10.5 },
    { t: "line", x1: 121.7, x2: 135, y: 302.7, color: rocColors[0] },
    { t: "text", s: rocLabels[0], x: 138.3, y: 302.7 },
    { t: "line", x1: 121.7, x2: 135, y: 315, color: rocColors[1] },
    { t: "text", s: rocLabels[1], x: 138.3, y: 315 },
    { t: "line", x1: 121.7, x2: 135, y: 328.3, color: rocColors[2] },
    { t: "text", s: rocLabels[2], x: 138.3, y: 328.3 }
  ])]
});
</script>
</body>
</html>
